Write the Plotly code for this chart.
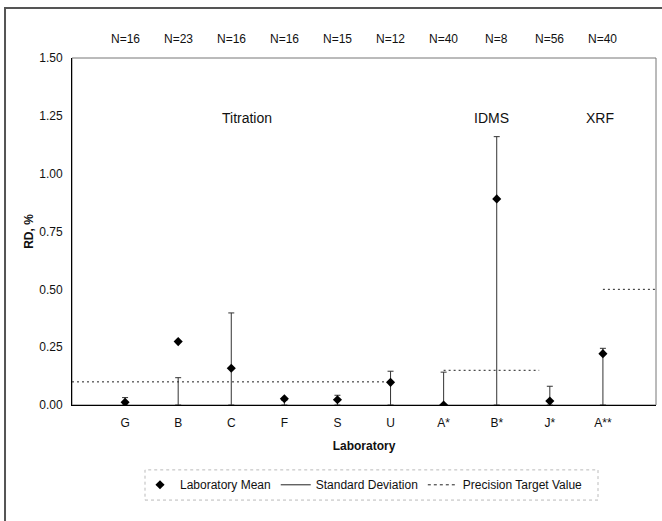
import plotly.graph_objects as go

# Laboratories and their results (relative difference, %)
labs = ["G", "B", "C", "F", "S", "U", "A*", "B*", "J*", "A**"]
n_results = [16, 23, 16, 16, 15, 12, 40, 8, 56, 40]
lab_mean = [0.012, 0.274, 0.159, 0.027, 0.023, 0.098, 0.000, 0.891, 0.017, 0.222]
lab_sd = [0.032, 0.118, 0.398, 0.020, 0.042, 0.146, 0.142, 1.160, 0.081, 0.245]

# Precision target value per method, with the span of category positions it covers
methods = ["Titration", "IDMS", "XRF"]
target_value = [0.10, 0.15, 0.50]
target_start = [0, 7, 10]
target_end = [6, 8.8, 11]
method_label_x = [3.3, 7.9, 9.95]
method_label_y = 1.24

xpos = list(range(1, len(labs) + 1))
FONT = "Liberation Sans, Arial, sans-serif"

fig = go.Figure()

# Standard deviation drawn as a stem from zero up to the SD value
fig.add_trace(go.Scatter(
    x=xpos, y=lab_sd, mode="markers",
    marker=dict(size=0.1, color="rgba(0,0,0,0)"),
    error_y=dict(type="data", symmetric=False, array=[0] * len(labs),
                 arrayminus=lab_sd, color="#333333", thickness=1, width=3),
    showlegend=False, hoverinfo="skip",
))

# Precision target segments
tx, ty = [], []
for v, a, b in zip(target_value, target_start, target_end):
    tx += [a, b, None]
    ty += [v, v, None]
fig.add_trace(go.Scatter(
    x=tx, y=ty, mode="lines",
    line=dict(color="#222222", width=1, dash="2px,3px"),
    showlegend=False, hoverinfo="skip",
))

# Laboratory means
fig.add_trace(go.Scatter(
    x=xpos, y=lab_mean, mode="markers", name="Laboratory Mean",
    marker=dict(symbol="diamond", size=7, color="black"),
))

# Legend entries for the line styles
fig.add_trace(go.Scatter(
    x=[None], y=[None], mode="lines", name="Standard Deviation",
    line=dict(color="#222222", width=1),
))
fig.add_trace(go.Scatter(
    x=[None], y=[None], mode="lines", name="Precision Target Value",
    line=dict(color="#222222", width=1, dash="3px,3px"),
))

annotations = []
# number of results above each laboratory
for x, n in zip(xpos, n_results):
    annotations.append(dict(
        x=x, y=1.055, xref="x", yref="paper", text=f"N={n}",
        xanchor="center", yanchor="middle",
        showarrow=False, font=dict(family=FONT, size=12, color="#111111"),
    ))
for name, x in zip(methods, method_label_x):
    annotations.append(dict(
        x=x, y=method_label_y, xref="x", yref="y", text=name,
        xanchor="center", yanchor="middle",
        showarrow=False, font=dict(family=FONT, size=14, color="#111111"),
    ))

shapes = [
    # plot frame
    dict(type="rect", xref="paper", yref="paper", x0=0, x1=1, y0=0, y1=1,
         line=dict(color="#777777", width=1), layer="below"),
    # legend box
    dict(type="rect", xref="paper", yref="paper", x0=0.125, x1=0.9007,
         y0=-0.274, y1=-0.187, line=dict(color="#bbbbbb", width=1, dash="dot")),
    # outer chart frame
    dict(type="rect", xref="paper", yref="paper", x0=-0.1147, x1=1.02,
         y0=-0.36, y1=1.144, line=dict(color="#555555", width=2)),
]

fig.update_layout(
    width=662, height=521,
    margin=dict(l=72, r=6, t=58, b=116),
    paper_bgcolor="white", plot_bgcolor="white",
    font=dict(family=FONT, size=12, color="#111111"),
    showlegend=True,
    legend=dict(orientation="h", x=0.5, xanchor="center", y=-0.23, yanchor="middle",
                font=dict(family=FONT, size=12, color="#111111"),
                bgcolor="rgba(0,0,0,0)", tracegroupgap=0),
    annotations=annotations,
    shapes=shapes,
    xaxis=dict(
        range=[0, 11], tickmode="array", tickvals=xpos, ticktext=labs,
        showgrid=False, zeroline=False, showline=True, linecolor="black", linewidth=1,
        ticks="", ticklabelstandoff=7, tickfont=dict(family=FONT, size=12),
        title=dict(text="<b>Laboratory</b>", font=dict(family=FONT, size=12), standoff=12),
        fixedrange=True,
    ),
    yaxis=dict(
        range=[0, 1.5], tickmode="linear", tick0=0, dtick=0.25, tickformat=".2f",
        showgrid=False, zeroline=False, showline=True, linecolor="black", linewidth=1,
        ticks="", ticklabelstandoff=6, tickfont=dict(family=FONT, size=12),
        title=dict(text="<b>RD, %</b>", font=dict(family=FONT, size=12), standoff=3),
        fixedrange=True,
    ),
)

fig.write_html("out.html")
